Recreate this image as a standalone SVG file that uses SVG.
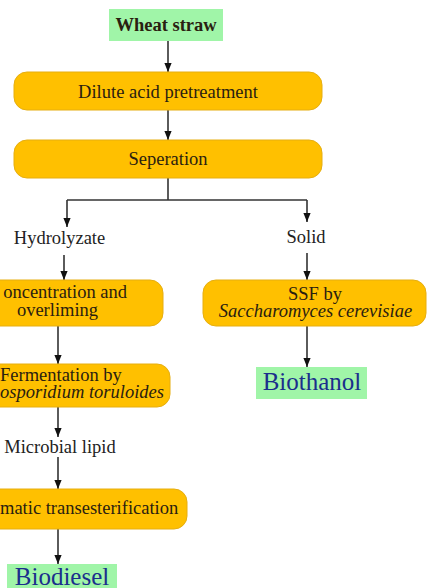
<svg xmlns="http://www.w3.org/2000/svg" width="427" height="588" viewBox="0 0 427 588">
<style>
.proc{fill:#FFC000;stroke:#E6AE10;stroke-width:1}
.prod{fill:#A0F5A8}
.t{font-family:"Liberation Serif","Times New Roman",serif;font-size:18.5px;fill:#2a2010;text-anchor:middle}
.s{text-anchor:start}
.e{text-anchor:end}
.lbl{font-family:"Liberation Serif","Times New Roman",serif;font-size:18.5px;fill:#222;text-anchor:middle}
.it{font-style:italic}
.big{font-family:"Liberation Serif","Times New Roman",serif;font-size:25px;fill:#1B2E8C;text-anchor:middle}
.c{stroke:#333;stroke-width:1.6;fill:none}
</style>
<defs>
<marker id="ah" viewBox="0 0 10 8" refX="10" refY="4" markerWidth="9" markerHeight="7.2" orient="auto" markerUnits="userSpaceOnUse">
<path d="M0,0 L10,4 L0,8 z" fill="#111"/>
</marker>
</defs>
<g id="connectors">
<line class="c" x1="168" y1="41" x2="168" y2="72" marker-end="url(#ah)"/>
<line class="c" x1="168" y1="110" x2="168" y2="140" marker-end="url(#ah)"/>
<polyline class="c" points="168,178 168,200"/>
<polyline class="c" points="67,200 307,200"/>
<line class="c" x1="67" y1="200" x2="67" y2="227" marker-end="url(#ah)"/>
<line class="c" x1="307" y1="200" x2="307" y2="222" marker-end="url(#ah)"/>
<line class="c" x1="64" y1="255" x2="64" y2="280" marker-end="url(#ah)"/>
<line class="c" x1="307" y1="253" x2="307" y2="280" marker-end="url(#ah)"/>
<line class="c" x1="58" y1="326" x2="58" y2="364" marker-end="url(#ah)"/>
<line class="c" x1="307" y1="326" x2="307" y2="367" marker-end="url(#ah)"/>
<line class="c" x1="58" y1="407" x2="58" y2="437" marker-end="url(#ah)"/>
<line class="c" x1="58" y1="457" x2="58" y2="489" marker-end="url(#ah)"/>
<line class="c" x1="58" y1="529" x2="58" y2="564" marker-end="url(#ah)"/>
</g>
<g id="wheat-straw">
<rect class="prod" x="109" y="9" width="114" height="32"/>
<text class="t" x="166" y="31" font-weight="bold" fill="#111">Wheat straw</text>
</g>
<g id="dilute-acid">
<rect class="proc" x="14" y="72" width="308" height="38" rx="13"/>
<text class="t" x="168" y="98">Dilute acid pretreatment</text>
</g>
<g id="seperation">
<rect class="proc" x="14" y="140" width="308" height="38" rx="13"/>
<text class="t" x="168" y="165">Seperation</text>
</g>
<g id="hydrolyzate">
<text class="lbl" x="59.5" y="244">Hydrolyzate</text>
</g>
<g id="solid">
<text class="lbl" x="306" y="243">Solid</text>
</g>
<g id="concentration">
<rect class="proc" x="-48" y="280" width="211" height="46" rx="13"/>
<text class="t e" x="127" y="298">oncentration and</text>
<text class="t" x="57.5" y="316">overliming</text>
</g>
<g id="ssf">
<rect class="proc" x="203" y="280" width="223" height="46" rx="13"/>
<text class="t" x="315" y="300">SSF by</text>
<text class="t it" x="315.5" y="317">Saccharomyces cerevisiae</text>
</g>
<g id="biothanol">
<rect class="prod" x="256" y="367" width="111" height="32"/>
<text class="big" x="312" y="390">Biothanol</text>
</g>
<g id="fermentation">
<rect class="proc" x="-54" y="364" width="224" height="43" rx="13"/>
<text class="t s" x="0" y="381">Fermentation by</text>
<text class="t it s" x="0" y="398">osporidium toruloides</text>
</g>
<g id="microbial-lipid">
<text class="lbl" x="60" y="453">Microbial lipid</text>
</g>
<g id="enzymatic">
<rect class="proc" x="-71" y="489" width="258" height="40" rx="13"/>
<text class="t s" x="0" y="514">matic transesterification</text>
</g>
<g id="biodiesel">
<rect class="prod" x="7" y="564" width="110" height="34"/>
<text class="big" x="62" y="585">Biodiesel</text>
</g>
</svg>
